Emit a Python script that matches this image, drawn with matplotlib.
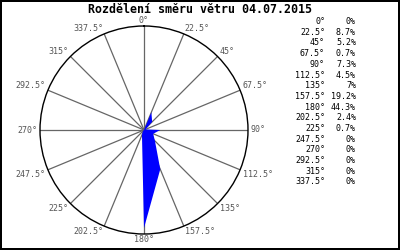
import numpy as np
import matplotlib
matplotlib.use("Agg")
import matplotlib.pyplot as plt

title = "Rozdělení směru větru 04.07.2015"
directions = [0, 22.5, 45, 67.5, 90, 112.5, 135, 157.5, 180, 202.5, 225, 247.5, 270, 292.5, 315, 337.5]
percents = [0, 8.7, 5.2, 0.7, 7.3, 4.5, 7, 19.2, 44.3, 2.4, 0.7, 0, 0, 0, 0, 0]
r_max = 47.0

W, H = 400, 250
fig = plt.figure(figsize=(W / 100, H / 100), dpi=100)
fig.patch.set_facecolor("white")
fig.patch.set_edgecolor("black")
fig.patch.set_linewidth(1.5)

cx, cy, R = 144, 130, 104
ax = fig.add_axes([(cx - R) / W, (H - cy - R) / H, 2 * R / W, 2 * R / H], projection="polar")
ax.set_theta_zero_location("N")
ax.set_theta_direction(-1)
ax.set_ylim(0, r_max)
ax.grid(False)
ax.set_xticks([])
ax.set_yticks([])
ax.spines["polar"].set_color("black")
ax.spines["polar"].set_linewidth(1.0)
ax.patch.set_alpha(0)

th = np.deg2rad(directions)
for t in th:
    ax.plot([t, t], [0, r_max], color="#666666", lw=0.9, zorder=1)

tc = np.append(th, th[0])
vc = np.append(percents, percents[0])
ax.fill(tc, vc, color="#0000ff", lw=0, zorder=3)

mono = "DejaVu Sans Mono"
for d, t in zip(directions, th):
    s, c = np.sin(t), np.cos(t)
    ha = "left" if s > 0.01 else ("right" if s < -0.01 else "center")
    va = "bottom" if c > 0.01 else ("top" if c < -0.01 else "center")
    ax.annotate(f"{d:g}°", xy=(t, r_max), xytext=(2 * s, 0.5 * c), textcoords="offset points",
                ha=ha, va=va, fontsize=6, family=mono, color="#555555", annotation_clip=False)

fig.text(200 / W, 1 - 9.5 / H, title, ha="center", va="center", fontsize=8.4,
         family=mono, weight="bold", color="black")

y0, y1 = 21.5, 182
for i, (d, p) in enumerate(zip(directions, percents)):
    y = y0 + (y1 - y0) * i / (len(directions) - 1)
    fig.text(325 / W, 1 - y / H, f"{d:g}°", ha="right", va="center", fontsize=6, family=mono, color="black")
    fig.text(356 / W, 1 - y / H, f"{p:g}%", ha="right", va="center", fontsize=6, family=mono, color="black")

fig.savefig("out.png", dpi=100, facecolor=fig.get_facecolor(), edgecolor=fig.get_edgecolor())
